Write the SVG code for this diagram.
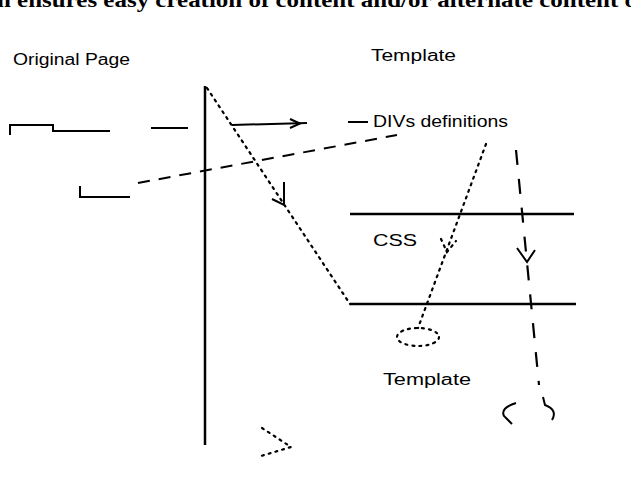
<svg xmlns="http://www.w3.org/2000/svg" width="631" height="489" viewBox="0 0 631 489">
<style>
.lbl{font-family:"Liberation Sans",Arial,sans-serif;font-size:16px;fill:#000}
.solid{stroke:#000;stroke-width:2.5;fill:none}
.thin{stroke:#000;stroke-width:2;fill:none}
.dash{stroke:#000;stroke-width:2;fill:none;stroke-dasharray:12 9}
.dot{stroke:#000;stroke-width:2.2;fill:none;stroke-dasharray:2 5;stroke-linecap:round}
.ldash{stroke:#000;stroke-width:2.2;fill:none;stroke-dasharray:15 14}
</style>
<rect width="631" height="489" fill="#fff"/>
<text x="-3" y="7" font-family="Liberation Serif,Times New Roman,serif" font-size="21" font-weight="bold" textLength="640" lengthAdjust="spacingAndGlyphs">n ensures easy creation of content and/or alternate content o</text>

<g id="original-page">
<text class="lbl" x="13" y="65" textLength="117" lengthAdjust="spacingAndGlyphs">Original Page</text>
<line class="solid" x1="205" y1="86" x2="205" y2="445"/>
<path class="thin" d="M10,135 V125 H53 V131 H110"/>
<path class="thin" d="M80,186 V197 H130"/>
</g>

<g id="template-top">
<text class="lbl" x="371" y="61" textLength="85" lengthAdjust="spacingAndGlyphs">Template</text>
</g>

<g id="divs-definitions">
<text class="lbl" x="373" y="127" textLength="135" lengthAdjust="spacingAndGlyphs">DIVs definitions</text>
</g>

<g id="css">
<line class="solid" x1="350" y1="214" x2="574" y2="214"/>
<line class="solid" x1="350" y1="304" x2="576" y2="304"/>
<text class="lbl" x="373" y="246" textLength="44" lengthAdjust="spacingAndGlyphs">CSS</text>
</g>

<g id="template-bottom">
<ellipse class="dot" cx="418" cy="337" rx="21" ry="9"/>
<text class="lbl" x="383" y="385" textLength="88" lengthAdjust="spacingAndGlyphs">Template</text>
</g>

<g id="result">
<path class="thin" d="M516,403 Q500,408 504,416 L512,424"/>
<path class="thin" d="M543,397 L545,405 Q558,410 552,420"/>
</g>

<g id="connectors">
<line class="thin" x1="151" y1="128" x2="188" y2="128"/>
<line class="thin" x1="232" y1="125" x2="307" y2="123"/>
<path class="thin" d="M290,119 L300,123.5 L290,128"/>
<line class="thin" x1="348" y1="122" x2="368" y2="122"/>
<line class="dash" x1="138" y1="183" x2="397" y2="135"/>
<line class="dot" x1="207" y1="88" x2="350" y2="304"/>
<path class="thin" d="M284,182 L284,205 L272,199"/>
<line class="dot" x1="486" y1="144" x2="418" y2="328"/>
<path class="dot" d="M441,239 L447,252 L456,241"/>
<line class="ldash" x1="516" y1="150" x2="539" y2="385"/>
<path class="thin" d="M517,248 L527,262 L535,250"/>
<path class="dot" d="M262,428 L291,447 L261,456"/>
</g>
</svg>
